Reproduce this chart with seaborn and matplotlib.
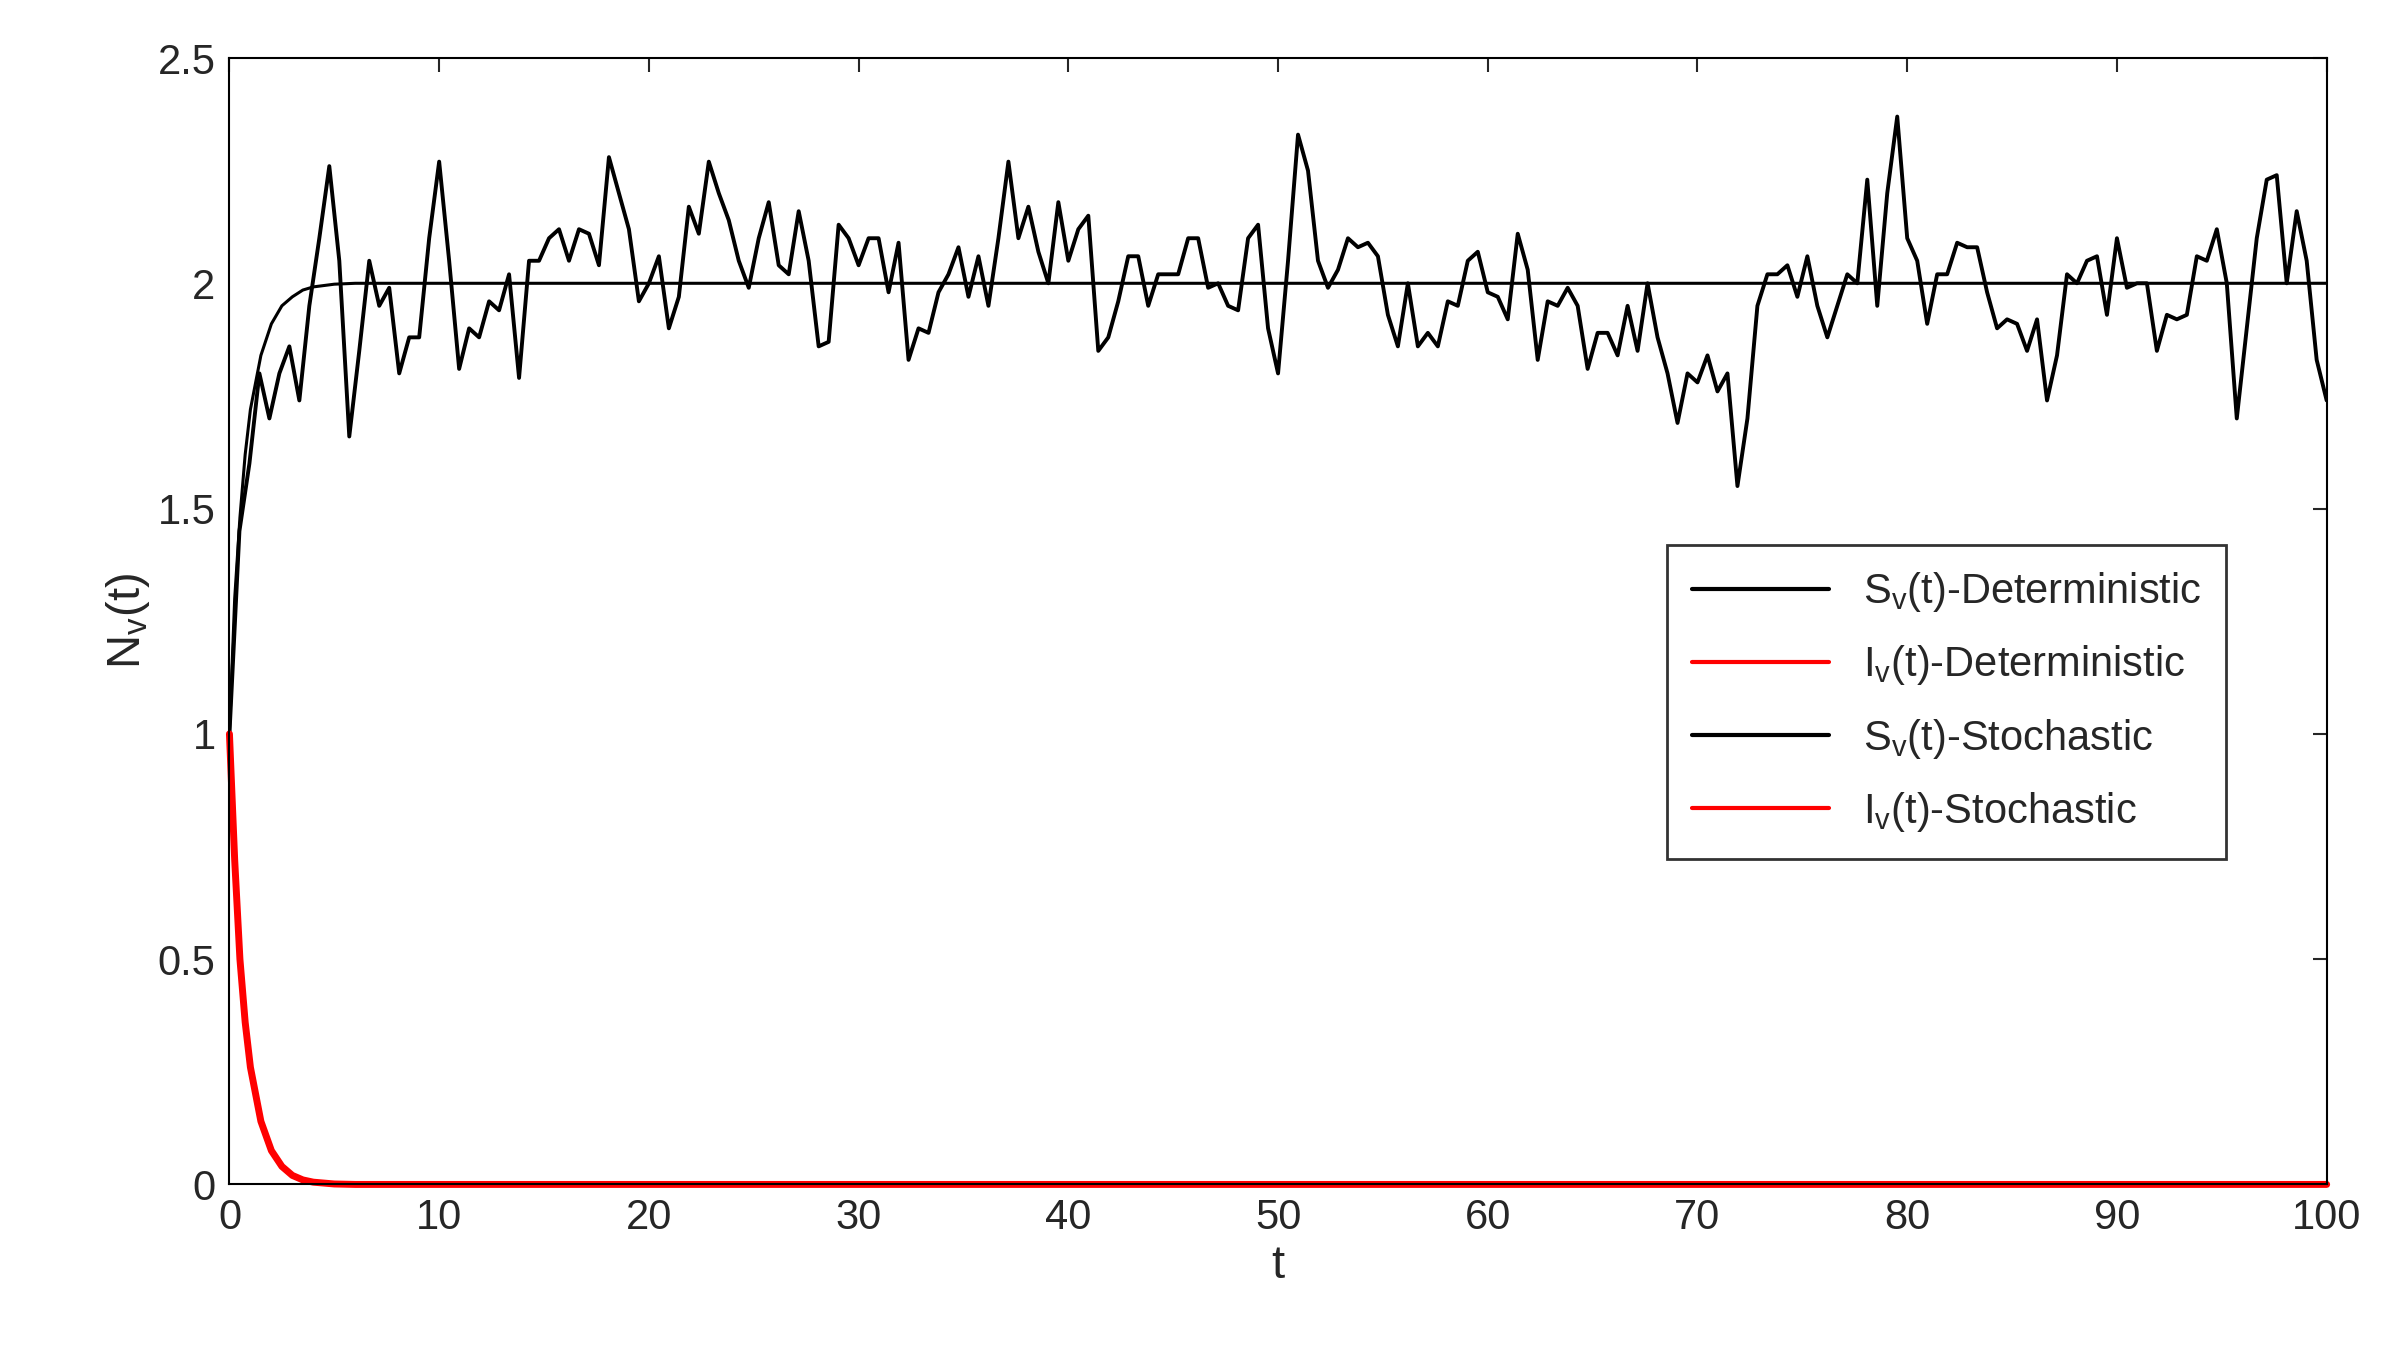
import numpy as np
import pandas as pd
import seaborn as sns
import matplotlib
matplotlib.use("Agg")
import matplotlib.pyplot as plt

sns.set_style("white")
plt.rcParams['font.family'] = ['Liberation Sans', 'DejaVu Sans']
plt.rcParams['mathtext.fontset'] = 'custom'
plt.rcParams['mathtext.rm'] = 'Liberation Sans'
plt.rcParams['mathtext.it'] = 'Liberation Sans'

# deterministic curves (read at sample times)
t_det = [0, 0.25, 0.5, 0.75, 1, 1.5, 2, 2.5, 3, 3.5, 4, 5, 6, 100]
S_det = [1.0, 1.3, 1.48, 1.62, 1.72, 1.84, 1.91, 1.95, 1.97, 1.985, 1.992, 1.998, 2.0, 2.0]
I_det = [1.0, 0.72, 0.5, 0.36, 0.26, 0.14, 0.075, 0.04, 0.02, 0.01, 0.005, 0.001, 0.0, 0.0]

# stochastic susceptible series (evenly spaced in t)
S_sto = [1.0, 1.45, 1.6, 1.8, 1.7, 1.8, 1.86, 1.74, 1.95, 2.1, 2.26, 2.05, 1.66, 1.85, 2.05, 1.95,
         1.99, 1.8, 1.88, 1.88, 2.1, 2.27, 2.05, 1.81, 1.9, 1.88, 1.96, 1.94, 2.02, 1.79, 2.05, 2.05,
         2.1, 2.12, 2.05, 2.12, 2.11, 2.04, 2.28, 2.2, 2.12, 1.96, 2.0, 2.06, 1.9, 1.97, 2.17, 2.11,
         2.27, 2.2, 2.14, 2.05, 1.99, 2.1, 2.18, 2.04, 2.02, 2.16, 2.05, 1.86, 1.87, 2.13, 2.1, 2.04,
         2.1, 2.1, 1.98, 2.09, 1.83, 1.9, 1.89, 1.98, 2.02, 2.08, 1.97, 2.06, 1.95, 2.1, 2.27, 2.1,
         2.17, 2.07, 2.0, 2.18, 2.05, 2.12, 2.15, 1.85, 1.88, 1.96, 2.06, 2.06, 1.95, 2.02, 2.02, 2.02,
         2.1, 2.1, 1.99, 2.0, 1.95, 1.94, 2.1, 2.13, 1.9, 1.8, 2.05, 2.33, 2.25, 2.05, 1.99, 2.03,
         2.1, 2.08, 2.09, 2.06, 1.93, 1.86, 2.0, 1.86, 1.89, 1.86, 1.96, 1.95, 2.05, 2.07, 1.98, 1.97,
         1.92, 2.11, 2.03, 1.83, 1.96, 1.95, 1.99, 1.95, 1.81, 1.89, 1.89, 1.84, 1.95, 1.85, 2.0, 1.88,
         1.8, 1.69, 1.8, 1.78, 1.84, 1.76, 1.8, 1.55, 1.7, 1.95, 2.02, 2.02, 2.04, 1.97, 2.06, 1.95,
         1.88, 1.95, 2.02, 2.0, 2.23, 1.95, 2.2, 2.37, 2.1, 2.05, 1.91, 2.02, 2.02, 2.09, 2.08, 2.08,
         1.98, 1.9, 1.92, 1.91, 1.85, 1.92, 1.74, 1.84, 2.02, 2.0, 2.05, 2.06, 1.93, 2.1, 1.99, 2.0,
         2.0, 1.85, 1.93, 1.92, 1.93, 2.06, 2.05, 2.12, 2.0, 1.7, 1.9, 2.1, 2.23, 2.24, 2.0, 2.16,
         2.05, 1.83, 1.74]
t_sto = np.linspace(0, 100, len(S_sto))
I_sto = I_det

fig = plt.figure(figsize=(23.9, 13.49), dpi=100)
ax = fig.add_axes([0.096, 0.122, 0.8775, 0.835])

sns.lineplot(x=t_det, y=S_det, ax=ax, color='black', lw=2.2, label='S$_\\mathrm{v}$(t)-Deterministic')
sns.lineplot(x=t_sto, y=S_sto, ax=ax, color='black', lw=2.8, label='S$_\\mathrm{v}$(t)-Stochastic')
sns.lineplot(x=t_det, y=I_det, ax=ax, color='red', lw=2.5, label='I$_\\mathrm{v}$(t)-Deterministic')
sns.lineplot(x=t_det, y=I_sto, ax=ax, color='red', lw=5, label='I$_\\mathrm{v}$(t)-Stochastic', clip_on=False)

ax.set_xlim(0, 100)
ax.set_ylim(0, 2.5)
ax.set_xticks(range(0, 101, 10))
ax.set_yticks([0, 0.5, 1, 1.5, 2, 2.5])
ax.set_yticklabels(['0', '0.5', '1', '1.5', '2', '2.5'])
ax.tick_params(direction='in', length=10, width=1.5, labelsize=30, top=True, right=True, pad=10)
for s in ax.spines.values():
    s.set_linewidth(1.5)
    s.set_color('black')
ax.set_xlabel('t', fontsize=34)
ax.set_ylabel('N$_\\mathrm{v}$(t)', fontsize=34)

handles, labels = ax.get_legend_handles_labels()
order = [0, 2, 1, 3]
leg = ax.legend([handles[i] for i in order], [labels[i] for i in order],
                loc='upper right', bbox_to_anchor=(0.962, 0.586), fontsize=30, frameon=True,
                fancybox=False, edgecolor='black', handlelength=3.3, labelspacing=0.7,
                borderpad=0.6)
leg.get_frame().set_linewidth(2)
for h in leg.get_lines():
    h.set_linewidth(3)

fig.savefig('out.png', dpi=100, facecolor='white')
